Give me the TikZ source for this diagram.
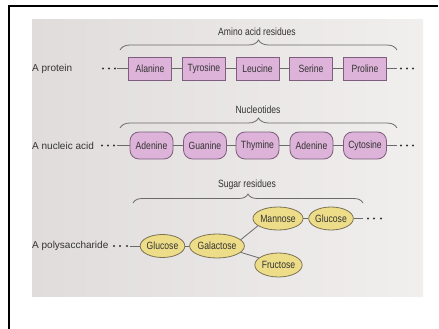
\documentclass[tikz,border=0pt]{standalone}
\usepackage{fontspec}
\setmainfont{Liberation Sans}
\newfontfamily\condfont[FakeStretch=0.82]{Liberation Sans}
\usetikzlibrary{shapes.geometric,decorations.pathreplacing}
\definecolor{paper}{HTML}{EBE7E7}
\definecolor{paperdark}{HTML}{E0DCDC}
\definecolor{inktext}{HTML}{333333}
\definecolor{linkgray}{HTML}{6A6A6A}
\definecolor{aminofill}{HTML}{DDB3D9}
\definecolor{aminoedge}{HTML}{7E5E7C}
\definecolor{sugarfill}{HTML}{EEDD88}
\definecolor{sugaredge}{HTML}{7C7254}
\begin{document}
\begin{tikzpicture}[x=1pt,y=-1pt,
  residue/.style={draw=aminoedge,fill=aminofill,line width=0.8pt,
    minimum width=43pt,minimum height=23pt,inner sep=0pt,
    font=\condfont\fontsize{10.5}{11}\selectfont,text=inktext},
  nucleo/.style={residue,rounded corners=9pt,minimum height=27pt},
  sugar/.style={ellipse,draw=sugaredge,fill=sugarfill,line width=0.8pt,
    inner sep=0pt,minimum height=23pt,
    font=\condfont\fontsize{10.5}{11}\selectfont,text=inktext},
  rowlabel/.style={anchor=west,inner sep=0pt,text=inktext,
    font=\fontsize{10}{11}\selectfont},
  heading/.style={inner sep=0pt,text=inktext,
    font=\condfont\fontsize{10.5}{11}\selectfont},
  link/.style={draw=linkgray,line width=0.8pt},
  group/.style={draw=linkgray,line width=0.8pt,
    decorate,decoration={brace,amplitude=10pt}},
  dot/.style={fill=inktext,draw=none}
]
\useasboundingbox (0,0) rectangle (439,329);
% page background and frame
\fill[white] (0,0) rectangle (439,329);
\shade[left color=paperdark,right color=paper!70!white] (32,20) rectangle (423,296);
\draw[black,line width=2pt] (9,329) -- (9,6) -- (438,6);

% ---------- protein ----------
\node[rowlabel] (lp) at (32,68.5) {A protein};
\node[heading] (hp) at (257,32) {Amino acid residues};
\node[residue] (ala) at (150,68.5) {Alanine};
\node[residue] (tyr) at (204,68.5) {Tyrosine};
\node[residue] (leu) at (257.5,68.5) {Leucine};
\node[residue] (ser) at (311,68.5) {Serine};
\node[residue] (pro) at (365,68.5) {Proline};
\coordinate (pin) at (117,68.5);
\coordinate (pout) at (397,68.5);
\draw[link] (pin) -- (ala) -- (tyr) -- (leu) -- (ser) -- (pro) -- (pout);
\foreach \x in {103,109,115} \fill[dot] (\x,68.5) circle (1.2pt);
\foreach \x in {401,407,413} \fill[dot] (\x,68.5) circle (1.2pt);
\draw[group] (120,50) -- (397,50);

% ---------- nucleic acid ----------
\node[rowlabel] (ln) at (32,146) {A nucleic acid};
\node[heading] (hn) at (258,110) {Nucleotides};
\node[nucleo] (ade1) at (151.5,145.5) {Adenine};
\node[nucleo] (gua) at (205,145.5) {Guanine};
\node[nucleo] (thy) at (257.5,145.5) {Thymine};
\node[nucleo] (ade2) at (311.5,145.5) {Adenine};
\node[nucleo] (cyt) at (365,145.5) {Cytosine};
\coordinate (nin) at (117,145.5);
\coordinate (nout) at (397,145.5);
\draw[link] (nin) -- (ade1) -- (gua) -- (thy) -- (ade2) -- (cyt) -- (nout);
\foreach \x in {102,108,114} \fill[dot] (\x,145.5) circle (1.2pt);
\foreach \x in {401,407,413} \fill[dot] (\x,145.5) circle (1.2pt);
\draw[group] (120,128) -- (397,128);

% ---------- polysaccharide ----------
\node[rowlabel] (ls) at (32,246) {A polysaccharide};
\node[heading] (hs) at (247,185) {Sugar residues};
\node[sugar,minimum width=39pt] (glc1) at (162.5,246) {Glucose};
\node[sugar,minimum width=46pt,minimum height=24pt] (gal) at (217,246) {Galactose};
\node[sugar,minimum width=44pt] (man) at (278,218.5) {Mannose};
\node[sugar,minimum width=42pt] (glc2) at (331,218.5) {Glucose};
\node[sugar,minimum width=43pt,minimum height=24pt] (fru) at (278.5,265) {Fructose};
\coordinate (sin) at (130,246);
\coordinate (sout) at (363,218.5);
\draw[link] (sin) -- (glc1) -- (gal);
\draw[link] (gal.15) -- (man.200);
\draw[link] (gal.-15) -- (fru.160);
\draw[link] (man) -- (glc2) -- (sout);
\foreach \x in {114,120,127} \fill[dot] (\x,246) circle (1.2pt);
\foreach \x in {368,374,381} \fill[dot] (\x,218.5) circle (1.2pt);
\draw[group,decoration={amplitude=9pt}] (133,203) -- (363,203);
\end{tikzpicture}
\end{document}
